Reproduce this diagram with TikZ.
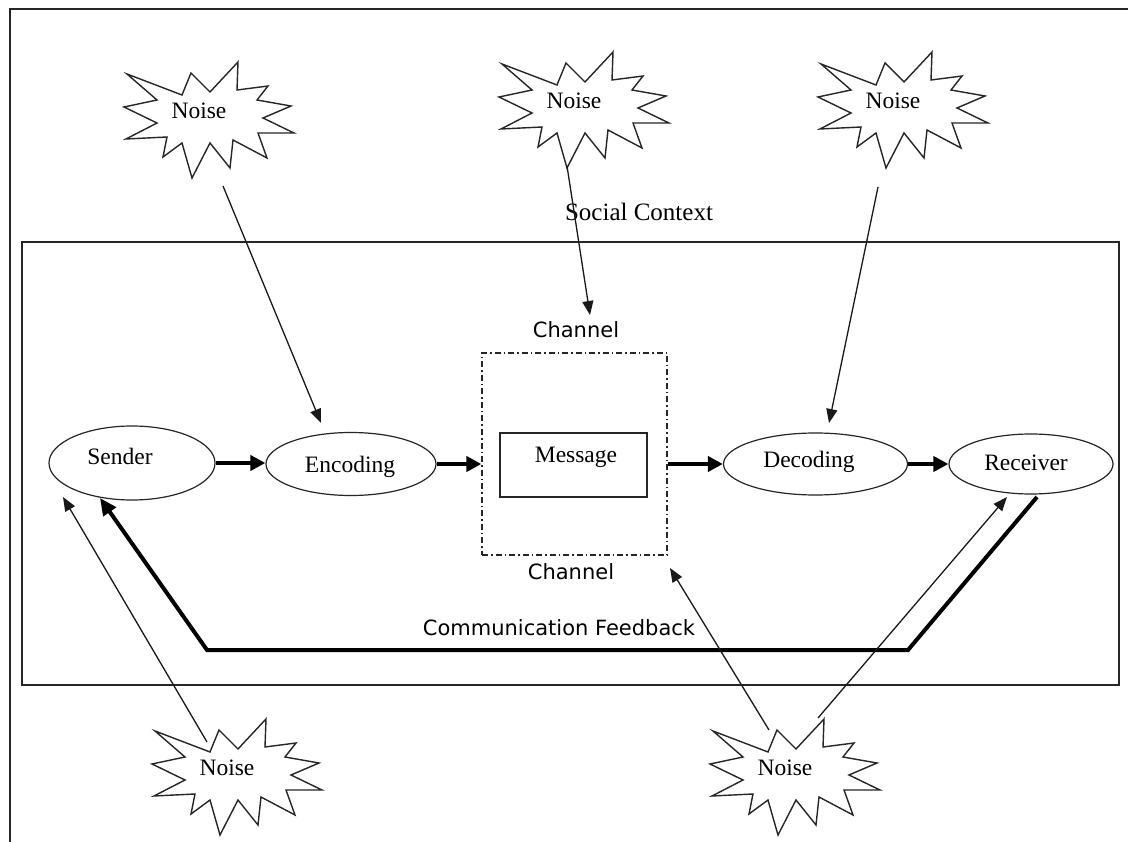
\documentclass[tikz,border=0pt]{standalone}
\usepackage{fontspec}
\setmainfont{Liberation Serif}
\newfontfamily\chanfont{DejaVu Sans}
\usetikzlibrary{arrows.meta,shapes.geometric}
\tikzset{
  x=1pt, y=-1pt,
  frame/.style={draw=black!85, line width=1.5pt},
  oval/.style={draw=black!85, ellipse, line width=1.2pt, inner sep=0pt},
  lbl/.style={font=\fontsize{23.5}{26}\selectfont, inner sep=0pt},
  chlbl/.style={font=\chanfont\fontsize{21}{24}\selectfont, inner sep=0pt},
  bigarrow/.style={line width=4pt, -{Triangle[length=15pt,width=15pt]}},
  thinarrow/.style={line width=1.3pt, draw=black!90, -{Triangle[length=14pt,width=11pt]}},
  burst/.style={draw=black!85, line width=1.4pt, line join=miter, fill=white},
}
\newcommand\noiseburst[2]{%
  \begin{scope}[shift={(#1,#2)}]
  \draw[burst] (0,0) -- (-1,28) -- (30,24) -- (19,38) -- (53,44) -- (25,56)
    -- (56,71) -- (20,71) -- (29,96) -- (-5,78) -- (-8,106) -- (-28,81)
    -- (-46,116) -- (-56,81) -- (-75,95) -- (-71,75) -- (-112,77) -- (-81,61)
    -- (-114,45) -- (-81,38) -- (-111,12) -- (-56,33) -- (-47,11) -- (-28,30) -- cycle;
  \node[lbl] at (-39,49) {Noise};
  \end{scope}}
\begin{document}
\begin{tikzpicture}
\useasboundingbox (0,0) rectangle (1128,842);
\fill[white] (0,0) rectangle (1128,842);
% outer frame
\draw[frame] (10,900) -- (10,9) -- (1200,9);
% social context box
\draw[frame] (22,242) rectangle (1119,685);
\node[lbl, font=\fontsize{25}{28}\selectfont] (social) at (639,212) {Social Context};

% noises
\noiseburst{238}{62}
\noiseburst{613}{52}
\noiseburst{932}{52}
\noiseburst{266}{719}
\noiseburst{824}{719}

% ellipses
\node[oval, minimum width=166pt, minimum height=74pt] (sender) at (132,463) {};
\node[lbl] (senderT) at (120,456) {Sender};
\node[oval, minimum width=170pt, minimum height=63pt] (encoding) at (351,464) {};
\node[lbl] (encodingT) at (350,467) {Encoding};
\node[oval, minimum width=184pt, minimum height=62pt] (decoding) at (815.5,464) {};
\node[lbl] (decodingT) at (809,462) {Decoding};
\node[oval, minimum width=164pt, minimum height=60pt] (receiver) at (1031,464) {};
\node[lbl] (receiverT) at (1026,463) {Receiver};

% channel
\node[draw=black!85, line width=1.2pt, dash pattern=on 6pt off 3pt on 1.5pt off 3pt,
      minimum width=185pt, minimum height=202pt, inner sep=0pt] (chan) at (574.5,454) {};
\node[draw=black!85, line width=1.3pt, minimum width=147pt, minimum height=64pt, inner sep=0pt] (msg) at (573.5,465) {};
\node[lbl] (msgT) at (576,457) {Message};
\node[chlbl] (chTop) at (576,330) {Channel};
\node[chlbl] (chBot) at (571,572) {Channel};
\node[chlbl] (fb) at (559,628) {Communication Feedback};

% main flow
\draw[bigarrow] (sender.east) -- (sender.east -| encoding.west);
\draw[bigarrow] (encoding.east) -- (encoding.east -| chan.west);
\draw[bigarrow] (chan.east |- decoding.west) -- (decoding.west);
\draw[bigarrow] (decoding.east) -- (decoding.east -| receiver.west);

% feedback
\coordinate (fbA) at (1037,497);
\coordinate (fbB) at (908,650);
\coordinate (fbC) at (207,650);
\coordinate (fbD) at (100,498);
\draw[line width=4pt, line join=miter, -{Triangle[length=17pt,width=15pt]}] (fbA) -- (fbB) -- (fbC) -- (fbD);

% noise arrows
\coordinate (n1s) at (223,186);
\coordinate (n1e) at (321,423);
\draw[thinarrow] (n1s) -- (n1e);
\coordinate (n2s) at (567,166);
\coordinate (n2e) at (590,315);
\draw[thinarrow] (n2s) -- (n2e);
\coordinate (n3s) at (878,187);
\coordinate (n3e) at (829,423);
\draw[thinarrow] (n3s) -- (n3e);
\coordinate (n4s) at (207,742);
\coordinate (n4e) at (63,497);
\draw[thinarrow] (n4s) -- (n4e);
\coordinate (n5s) at (769,730);
\coordinate (n5e) at (670,568);
\draw[thinarrow] (n5s) -- (n5e);
\coordinate (n6s) at (818,718);
\coordinate (n6e) at (1007,497);
\draw[thinarrow] (n6s) -- (n6e);
\end{tikzpicture}
\end{document}
